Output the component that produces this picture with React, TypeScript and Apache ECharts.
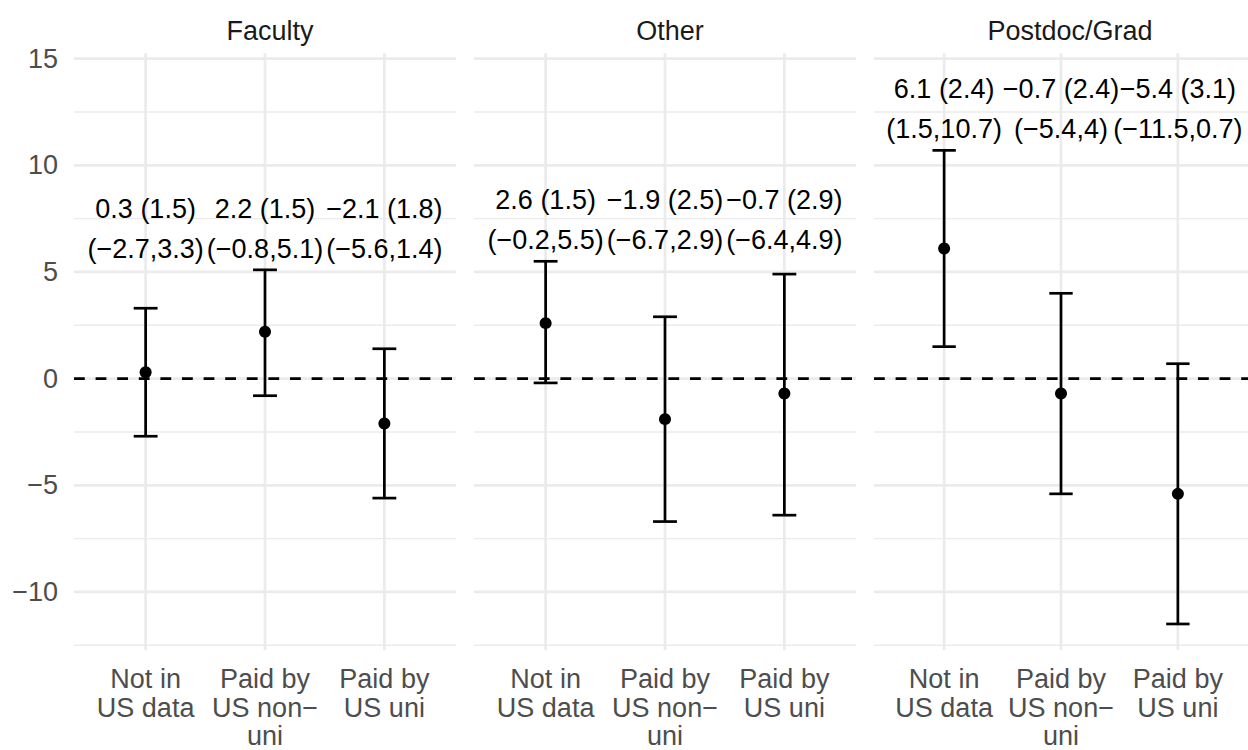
import React, { useEffect, useRef } from "react";
import * as echarts from "echarts";

const facets = ["Faculty", "Other", "Postdoc/Grad"];
const categories = ["Not in\nUS data", "Paid by\nUS non\u2212\nuni", "Paid by\nUS uni"];
const catX = [1, 2, 3];

const estFaculty = [0.3, 2.2, -2.1];
const seFaculty = [1.5, 1.5, 1.8];
const lowerFaculty = [-2.7, -0.8, -5.6];
const upperFaculty = [3.3, 5.1, 1.4];

const estOther = [2.6, -1.9, -0.7];
const seOther = [1.5, 2.5, 2.9];
const lowerOther = [-0.2, -6.7, -6.4];
const upperOther = [5.5, 2.9, 4.9];

const estPostdoc = [6.1, -0.7, -5.4];
const sePostdoc = [2.4, 2.4, 3.1];
const lowerPostdoc = [1.5, -5.4, -11.5];
const upperPostdoc = [10.7, 4, 0.7];

const yMajorTicks = [-10, -5, 0, 5, 10, 15];
const yMinorTicks = [-12.5, -7.5, -2.5, 2.5, 7.5, 12.5];

const panels = [
  { est: estFaculty, se: seFaculty, lo: lowerFaculty, hi: upperFaculty },
  { est: estOther, se: seOther, lo: lowerOther, hi: upperOther },
  { est: estPostdoc, se: sePostdoc, lo: lowerPostdoc, hi: upperPostdoc },
];

const FONT = "'Liberation Sans', Arial, Helvetica, sans-serif";
const FS = 27;
const fmt = (v: number) => String(v).replace("-", "\u2212");

const GRID_LEFT = 74;
const GRID_STEP = 400;
const GRID_W = 382;
const GRID_TOP = 53.3;
const GRID_H = 596.7;

export default function App() {
  const ref = useRef<HTMLDivElement>(null);
  useEffect(() => {
    if (!ref.current) return;
    const chart = echarts.init(ref.current, null, { renderer: "svg" });

    const grids: any[] = [];
    const xAxes: any[] = [];
    const yAxes: any[] = [];
    const series: any[] = [];
    const titles: any[] = [];

    panels.forEach((p, i) => {
      grids.push({ left: GRID_LEFT + GRID_STEP * i, top: GRID_TOP, width: GRID_W, height: GRID_H });
      xAxes.push({ type: "value", gridIndex: i, min: 0.4, max: 3.6, show: false });
      yAxes.push({ type: "value", gridIndex: i, min: -12.72, max: 15.25, show: false });
      titles.push({
        text: facets[i],
        left: GRID_LEFT + GRID_STEP * i + GRID_W / 2,
        top: 12,
        textAlign: "center",
        textStyle: { fontFamily: FONT, fontSize: FS, fontWeight: "normal", color: "#1A1A1A" },
      });
      const ax = { xAxisIndex: i, yAxisIndex: i };

      // minor horizontal grid
      series.push({
        type: "custom", ...ax, silent: true, z: 1,
        data: yMinorTicks.map((v) => [v]),
        renderItem: (params: any, api: any) => {
          const cs = params.coordSys;
          const y = api.coord([1, api.value(0)])[1];
          return { type: "line", shape: { x1: cs.x, y1: y, x2: cs.x + cs.width, y2: y }, style: { stroke: "#EBEBEB", lineWidth: 1.4 } };
        },
      });
      // major horizontal grid
      series.push({
        type: "custom", ...ax, silent: true, z: 1,
        data: yMajorTicks.map((v) => [v]),
        renderItem: (params: any, api: any) => {
          const cs = params.coordSys;
          const y = api.coord([1, api.value(0)])[1];
          return { type: "line", shape: { x1: cs.x, y1: y, x2: cs.x + cs.width, y2: y }, style: { stroke: "#EBEBEB", lineWidth: 2.7 } };
        },
      });
      // vertical grid
      series.push({
        type: "custom", ...ax, silent: true, z: 1,
        data: catX.map((v) => [v]),
        renderItem: (params: any, api: any) => {
          const cs = params.coordSys;
          const x = api.coord([api.value(0), 0])[0];
          return { type: "line", shape: { x1: x, y1: cs.y, x2: x, y2: cs.y + cs.height }, style: { stroke: "#EBEBEB", lineWidth: 2.7 } };
        },
      });
      // x labels
      series.push({
        type: "custom", ...ax, silent: true, z: 2,
        data: catX.map((v) => [v]),
        renderItem: (params: any, api: any) => {
          const cs = params.coordSys;
          const x = api.coord([api.value(0), 0])[0];
          return {
            type: "text", x, y: cs.y + cs.height + 15,
            style: { text: categories[params.dataIndex], fontFamily: FONT, fontSize: FS, fill: "#4D4D4D", align: "center", verticalAlign: "top", lineHeight: 28.5 },
          };
        },
      });
      // y labels only on first panel
      if (i === 0) {
        series.push({
          type: "custom", ...ax, silent: true, z: 2,
          data: yMajorTicks.map((v) => [v]),
          renderItem: (params: any, api: any) => {
            const cs = params.coordSys;
            const y = api.coord([1, api.value(0)])[1];
            return {
              type: "text", x: cs.x - 16, y,
              style: { text: fmt(api.value(0)), fontFamily: FONT, fontSize: FS, fill: "#4D4D4D", align: "right", verticalAlign: "middle" },
            };
          },
        });
      }
      // zero dashed line
      series.push({
        type: "custom", ...ax, silent: true, z: 3,
        data: [[0]],
        renderItem: (params: any, api: any) => {
          const cs = params.coordSys;
          const y = api.coord([1, api.value(0)])[1];
          return { type: "line", shape: { x1: cs.x, y1: y, x2: cs.x + cs.width, y2: y }, style: { stroke: "#000", lineWidth: 2.7, lineDash: [10.8, 10.8] } };
        },
      });
      // error bars
      series.push({
        type: "custom", ...ax, silent: true, z: 4,
        data: catX.map((x, k) => [x, p.lo[k], p.hi[k]]),
        renderItem: (params: any, api: any) => {
          const x = api.value(0);
          const lo = api.coord([x, api.value(1)]);
          const hi = api.coord([x, api.value(2)]);
          const l = api.coord([x - 0.1, api.value(1)])[0];
          const r = api.coord([x + 0.1, api.value(1)])[0];
          const st = { stroke: "#000", lineWidth: 2.7 };
          return {
            type: "group",
            children: [
              { type: "line", shape: { x1: lo[0], y1: lo[1], x2: hi[0], y2: hi[1] }, style: st },
              { type: "line", shape: { x1: l, y1: lo[1], x2: r, y2: lo[1] }, style: st },
              { type: "line", shape: { x1: l, y1: hi[1], x2: r, y2: hi[1] }, style: st },
            ],
          };
        },
      });
      // points
      series.push({
        type: "scatter", ...ax, z: 5, symbol: "circle", symbolSize: 12,
        itemStyle: { color: "#000", opacity: 1 },
        data: catX.map((x, k) => [x, p.est[k]]),
      });
      // value labels
      const maxHi = Math.max(...p.hi);
      series.push({
        type: "custom", ...ax, silent: true, z: 6,
        data: catX.map((x) => [x, maxHi]),
        renderItem: (params: any, api: any) => {
          const k = params.dataIndex;
          const pt = api.coord([api.value(0), api.value(1)]);
          const ts = { fontFamily: FONT, fontSize: FS, fill: "#000", align: "center", verticalAlign: "middle" };
          return {
            type: "group",
            children: [
              { type: "text", x: pt[0], y: pt[1] - 61, style: { ...ts, text: `${fmt(p.est[k])} (${p.se[k]})` } },
              { type: "text", x: pt[0], y: pt[1] - 21, style: { ...ts, text: `(${fmt(p.lo[k])},${fmt(p.hi[k])})` } },
            ],
          };
        },
      });
    });

    chart.setOption({
      animation: false,
      backgroundColor: "#fff",
      title: titles,
      grid: grids,
      xAxis: xAxes,
      yAxis: yAxes,
      series,
    });
    return () => chart.dispose();
  }, []);
  return <div ref={ref} style={{ position: "fixed", left: 0, top: 0, width: 1248, height: 750 }} />;
}
